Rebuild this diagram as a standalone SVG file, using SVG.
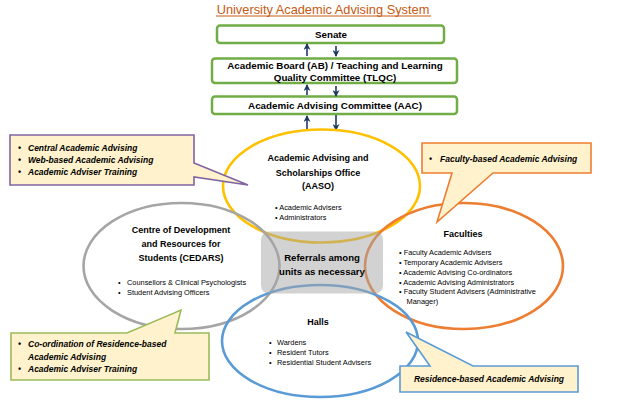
<svg xmlns="http://www.w3.org/2000/svg" width="643" height="405" viewBox="0 0 643 405">
<defs>
<marker id="ah" markerUnits="userSpaceOnUse" markerWidth="7" markerHeight="7" refX="6" refY="3.5" orient="auto">
<path d="M0,0 L7,3.5 L0,7 L2,3.5 Z" fill="#1F3864"/>
</marker>
</defs>
<style>
text{font-family:"Liberation Sans",Arial,sans-serif;fill:#000}
.hb{font-weight:bold;font-size:9.8px;text-anchor:middle}
.tt{font-weight:bold;font-size:9px;text-anchor:middle}
.sm{font-size:7.4px}
.ci{font-weight:bold;font-style:italic;font-size:8.5px}
.box{fill:#fff;stroke:#70AD47;stroke-width:2.5}
.ell{fill:none;stroke-width:2.6}
.co{fill:#FFF2CC;stroke-width:1.6}
.arr{stroke:#1F3864;stroke-width:1.6;fill:none;marker-end:url(#ah)}
</style>
<rect width="643" height="405" fill="#fff"/>
<g id="title">
<text x="323" y="13.5" style="font-size:12.8px;text-anchor:middle;fill:#C55A11">University Academic Advising System</text>
<line x1="216" y1="16" x2="431" y2="16" stroke="#C55A11" stroke-width="1"/>
</g>
<g id="senate">
<rect class="box" x="217" y="25.5" width="227" height="17.5" rx="3"/>
<text class="hb" x="331" y="38">Senate</text>
</g>
<g id="ab">
<rect class="box" x="212" y="58.5" width="245" height="24.5" rx="3"/>
<text class="hb" x="335" y="69">Academic Board (AB) / Teaching and Learning</text>
<text class="hb" x="335" y="80.5">Quality Committee (TLQC)</text>
</g>
<g id="aac">
<rect class="box" x="212" y="96.5" width="245" height="17.5" rx="3"/>
<text class="hb" x="335" y="109">Academic Advising Committee (AAC)</text>
</g>
<g id="connectors">
<line class="arr" x1="307" y1="56" x2="307" y2="44"/>
<line class="arr" x1="336" y1="46" x2="336" y2="56"/>
<line class="arr" x1="307" y1="95" x2="307" y2="85"/>
<line class="arr" x1="336" y1="86" x2="336" y2="96"/>
<line class="arr" x1="307" y1="131" x2="307" y2="116"/>
<line class="arr" x1="336" y1="115" x2="336" y2="130"/>
</g>
<g id="aaso">
<ellipse class="ell" cx="321.5" cy="186" rx="98.5" ry="56.5" stroke="#FFC000"/>
<text class="tt" x="318" y="161">Academic Advising and</text>
<text class="tt" x="318" y="175.5">Scholarships Office</text>
<text class="tt" x="318" y="189">(AASO)</text>
<text class="sm" x="275" y="210">• Academic Advisers</text>
<text class="sm" x="275" y="219.5">• Administrators</text>
</g>
<g id="cedars">
<ellipse class="ell" cx="181.5" cy="266" rx="98" ry="63" stroke="#A5A5A5"/>
<text class="tt" x="181" y="232.5">Centre of Development</text>
<text class="tt" x="181" y="246.5">and Resources for</text>
<text class="tt" x="181" y="260.5">Students (CEDARS)</text>
<text class="sm" x="118" y="284.5">•</text>
<text class="sm" x="127" y="284.5">Counsellors &amp; Clinical Psychologists</text>
<text class="sm" x="118" y="294.5">•</text>
<text class="sm" x="127" y="294.5">Student Advising Officers</text>
</g>
<g id="faculties">
<ellipse class="ell" cx="464" cy="266" rx="99" ry="63" stroke="#ED7D31"/>
<text class="tt" x="463" y="236.5">Faculties</text>
<text class="sm" x="399" y="254.8">• Faculty Academic Advisers</text>
<text class="sm" x="399" y="264.8">• Temporary Academic Advisers</text>
<text class="sm" x="399" y="274.8">• Academic Advising Co-ordinators</text>
<text class="sm" x="399" y="284.8">• Academic Advising Administrators</text>
<text class="sm" x="399" y="294.3">• Faculty Student Advisers (Administrative</text>
<text class="sm" x="406.5" y="304.3">Manager)</text>
</g>
<g id="halls">
<ellipse class="ell" cx="320" cy="341" rx="98" ry="56" stroke="#5B9BD5"/>
<text class="tt" x="318" y="324.5">Halls</text>
<text class="sm" x="269" y="344.5">•</text>
<text class="sm" x="277" y="344.5">Wardens</text>
<text class="sm" x="269" y="354.5">•</text>
<text class="sm" x="277" y="354.5">Resident Tutors</text>
<text class="sm" x="269" y="364.5">•</text>
<text class="sm" x="277" y="364.5">Residential Student Advisers</text>
</g>
<g id="referrals">
<rect x="261" y="231.5" width="122" height="62" rx="8" fill="#A6A6A6" fill-opacity="0.5"/>
<text class="tt" x="322" y="260.5" style="font-size:9.6px">Referrals among</text>
<text class="tt" x="322" y="274.5" style="font-size:9.6px">units as necessary</text>
</g>
<g id="callout-central">
<path class="co" d="M10,135 H194 V163 L248,185 L194,177 V185 H10 Z" stroke="#8064A2"/>
<text class="ci" x="18" y="151">•</text>
<text class="ci" x="28" y="151">Central Academic Advising</text>
<text class="ci" x="18" y="163">•</text>
<text class="ci" x="28" y="163">Web-based Academic Advising</text>
<text class="ci" x="18" y="175">•</text>
<text class="ci" x="28" y="175">Academic Adviser Training</text>
</g>
<g id="callout-faculty">
<path class="co" d="M422,143 H591 V173 H493 L437,222 L452,173 H422 Z" stroke="#ED7D31"/>
<text class="ci" x="429" y="162">•</text>
<text class="ci" x="440" y="162">Faculty-based Academic Advising</text>
</g>
<g id="callout-cedars">
<path class="co" d="M11,333 H127 L181,310 L175,333 H209 V380 H11 Z" stroke="#9BBB59"/>
<text class="ci" x="18" y="347">•</text>
<text class="ci" x="28" y="347">Co-ordination of Residence-based</text>
<text class="ci" x="28" y="359.5">Academic Advising</text>
<text class="ci" x="18" y="372">•</text>
<text class="ci" x="28" y="372">Academic Adviser Training</text>
</g>
<g id="callout-halls">
<path class="co" d="M400,366 H430 L406,332 L473,366 H578 V392 H400 Z" stroke="#5B9BD5"/>
<text class="ci" x="489" y="382" text-anchor="middle">Residence-based Academic Advising</text>
</g>
</svg>
